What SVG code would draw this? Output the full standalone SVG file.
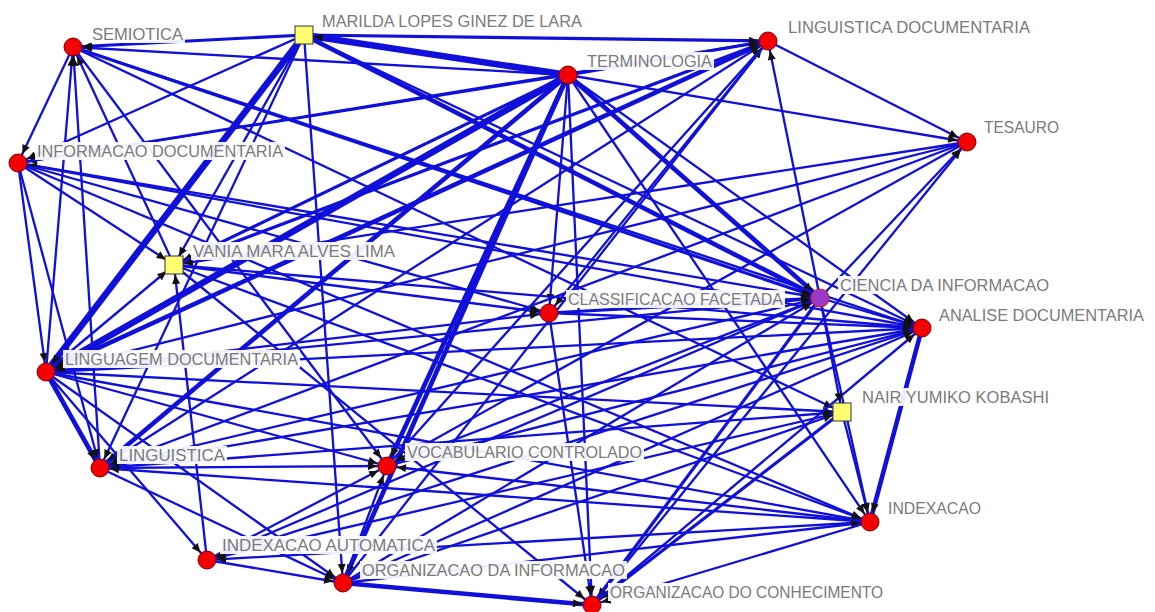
<svg xmlns="http://www.w3.org/2000/svg" width="1155" height="612" viewBox="0 0 1155 612">
<style>
.e{stroke:#1010da;fill:none;marker-end:url(#ah)}
.w2{stroke-width:2.3}.w3{stroke-width:3.2}.w4{stroke-width:4.6}.w6{stroke-width:6.5}
.c{fill:#f40000;stroke:#7a0000;stroke-width:1}
.s{fill:#ffff70;stroke:#333;stroke-width:1}
.lb{fill:#fff;opacity:0.92}
.t{font-family:"Liberation Sans",Arial,sans-serif;font-size:16.5px;fill:#7a7a7a}
</style>
<defs>
<marker id="ah" viewBox="0 0 20 8" refX="20" refY="4" markerWidth="20" markerHeight="8" markerUnits="userSpaceOnUse" orient="auto">
<path d="M1,0 L10,4 L1,8 z" fill="#111"/>
</marker>
</defs>
<rect width="1155" height="612" fill="#fff"/>
<g id="connectors">
<line class="e w3" x1="304" y1="35" x2="73" y2="47"/>
<line class="e w3" x1="304" y1="35" x2="768" y2="41"/>
<line class="e w6" x1="568" y1="75" x2="304" y2="35"/>
<line class="e w6" x1="304" y1="35" x2="46" y2="372"/>
<line class="e w4" x1="304" y1="35" x2="820" y2="298"/>
<line class="e w2" x1="304" y1="35" x2="18" y2="163"/>
<line class="e w2" x1="304" y1="35" x2="100" y2="468"/>
<line class="e w2" x1="304" y1="35" x2="343" y2="583"/>
<line class="e w2" x1="304" y1="35" x2="174" y2="265"/>
<line class="e w2" x1="304" y1="35" x2="922" y2="328"/>
<line class="e w2" x1="568" y1="75" x2="73" y2="47"/>
<line class="e w2" x1="568" y1="75" x2="18" y2="163"/>
<line class="e w6" x1="568" y1="75" x2="46" y2="372"/>
<line class="e w4" x1="568" y1="75" x2="387" y2="466"/>
<line class="e w4" x1="568" y1="75" x2="343" y2="583"/>
<line class="e w2" x1="568" y1="75" x2="549" y2="313"/>
<line class="e w4" x1="568" y1="75" x2="820" y2="298"/>
<line class="e w2" x1="568" y1="75" x2="592" y2="605"/>
<line class="e w4" x1="568" y1="75" x2="100" y2="468"/>
<line class="e w2" x1="568" y1="75" x2="967" y2="142"/>
<line class="e w2" x1="568" y1="75" x2="870" y2="522"/>
<line class="e w3" x1="568" y1="75" x2="174" y2="265"/>
<line class="e w2" x1="568" y1="75" x2="922" y2="328"/>
<line class="e w3" x1="568" y1="75" x2="768" y2="41"/>
<line class="e w4" x1="768" y1="41" x2="46" y2="372"/>
<line class="e w3" x1="174" y1="265" x2="768" y2="41"/>
<line class="e w2" x1="100" y1="468" x2="768" y2="41"/>
<line class="e w2" x1="768" y1="41" x2="967" y2="142"/>
<line class="e w2" x1="820" y1="298" x2="768" y2="41"/>
<line class="e w2" x1="343" y1="583" x2="768" y2="41"/>
<line class="e w2" x1="18" y1="163" x2="768" y2="41"/>
<line class="e w2" x1="387" y1="466" x2="768" y2="41"/>
<line class="e w2" x1="768" y1="41" x2="549" y2="313"/>
<line class="e w2" x1="73" y1="47" x2="18" y2="163"/>
<line class="e w2" x1="46" y1="372" x2="73" y2="47"/>
<line class="e w2" x1="100" y1="468" x2="73" y2="47"/>
<line class="e w2" x1="174" y1="265" x2="73" y2="47"/>
<line class="e w3" x1="73" y1="47" x2="820" y2="298"/>
<line class="e w2" x1="73" y1="47" x2="842" y2="412"/>
<line class="e w2" x1="73" y1="47" x2="387" y2="466"/>
<line class="e w2" x1="73" y1="47" x2="922" y2="328"/>
<line class="e w2" x1="18" y1="163" x2="46" y2="372"/>
<line class="e w2" x1="18" y1="163" x2="100" y2="468"/>
<line class="e w2" x1="18" y1="163" x2="174" y2="265"/>
<line class="e w2" x1="18" y1="163" x2="820" y2="298"/>
<line class="e w2" x1="922" y1="328" x2="18" y2="163"/>
<line class="e w2" x1="18" y1="163" x2="549" y2="313"/>
<line class="e w2" x1="18" y1="163" x2="870" y2="522"/>
<line class="e w2" x1="46" y1="372" x2="174" y2="265"/>
<line class="e w2" x1="207" y1="560" x2="174" y2="265"/>
<line class="e w2" x1="174" y1="265" x2="549" y2="313"/>
<line class="e w2" x1="174" y1="265" x2="922" y2="328"/>
<line class="e w2" x1="174" y1="265" x2="870" y2="522"/>
<line class="e w2" x1="174" y1="265" x2="592" y2="605"/>
<line class="e w2" x1="967" y1="142" x2="174" y2="265"/>
<line class="e w4" x1="46" y1="372" x2="100" y2="468"/>
<line class="e w2" x1="46" y1="372" x2="549" y2="313"/>
<line class="e w2" x1="46" y1="372" x2="820" y2="298"/>
<line class="e w2" x1="922" y1="328" x2="46" y2="372"/>
<line class="e w2" x1="46" y1="372" x2="842" y2="412"/>
<line class="e w2" x1="46" y1="372" x2="870" y2="522"/>
<line class="e w2" x1="46" y1="372" x2="387" y2="466"/>
<line class="e w2" x1="46" y1="372" x2="343" y2="583"/>
<line class="e w2" x1="46" y1="372" x2="207" y2="560"/>
<line class="e w2" x1="967" y1="142" x2="46" y2="372"/>
<line class="e w2" x1="100" y1="468" x2="387" y2="466"/>
<line class="e w2" x1="100" y1="468" x2="343" y2="583"/>
<line class="e w2" x1="870" y1="522" x2="100" y2="468"/>
<line class="e w2" x1="100" y1="468" x2="842" y2="412"/>
<line class="e w2" x1="922" y1="328" x2="100" y2="468"/>
<line class="e w2" x1="100" y1="468" x2="820" y2="298"/>
<line class="e w2" x1="967" y1="142" x2="100" y2="468"/>
<line class="e w2" x1="387" y1="466" x2="820" y2="298"/>
<line class="e w2" x1="387" y1="466" x2="922" y2="328"/>
<line class="e w2" x1="870" y1="522" x2="387" y2="466"/>
<line class="e w2" x1="207" y1="560" x2="387" y2="466"/>
<line class="e w2" x1="343" y1="583" x2="387" y2="466"/>
<line class="e w2" x1="967" y1="142" x2="387" y2="466"/>
<line class="e w2" x1="207" y1="560" x2="343" y2="583"/>
<line class="e w2" x1="870" y1="522" x2="207" y2="560"/>
<line class="e w2" x1="842" y1="412" x2="207" y2="560"/>
<line class="e w2" x1="922" y1="328" x2="207" y2="560"/>
<line class="e w2" x1="820" y1="298" x2="207" y2="560"/>
<line class="e w4" x1="343" y1="583" x2="592" y2="605"/>
<line class="e w2" x1="343" y1="583" x2="820" y2="298"/>
<line class="e w2" x1="343" y1="583" x2="870" y2="522"/>
<line class="e w2" x1="343" y1="583" x2="842" y2="412"/>
<line class="e w2" x1="343" y1="583" x2="922" y2="328"/>
<line class="e w3" x1="842" y1="412" x2="592" y2="605"/>
<line class="e w2" x1="870" y1="522" x2="592" y2="605"/>
<line class="e w3" x1="820" y1="298" x2="592" y2="605"/>
<line class="e w2" x1="592" y1="605" x2="967" y2="142"/>
<line class="e w2" x1="592" y1="605" x2="922" y2="328"/>
<line class="e w2" x1="549" y1="313" x2="592" y2="605"/>
<line class="e w3" x1="549" y1="313" x2="820" y2="298"/>
<line class="e w2" x1="820" y1="298" x2="870" y2="522"/>
<line class="e w4" x1="922" y1="328" x2="870" y2="522"/>
<line class="e w2" x1="842" y1="412" x2="870" y2="522"/>
<line class="e w2" x1="820" y1="298" x2="922" y2="328"/>
<line class="e w2" x1="820" y1="298" x2="842" y2="412"/>
<line class="e w2" x1="820" y1="298" x2="967" y2="142"/>
<line class="e w2" x1="549" y1="313" x2="922" y2="328"/>
</g>
<g id="labels">
<rect class="lb" x="90" y="25" width="95" height="18"/>
<text class="t" x="92" y="40" textLength="91" lengthAdjust="spacingAndGlyphs">SEMIOTICA</text>
<rect class="lb" x="320" y="12" width="264" height="18"/>
<text class="t" x="322" y="27" textLength="260" lengthAdjust="spacingAndGlyphs">MARILDA LOPES GINEZ DE LARA</text>
<rect class="lb" x="786" y="18" width="246" height="18"/>
<text class="t" x="788" y="33" textLength="242" lengthAdjust="spacingAndGlyphs">LINGUISTICA DOCUMENTARIA</text>
<rect class="lb" x="585" y="52" width="129" height="18"/>
<text class="t" x="587" y="67" textLength="125" lengthAdjust="spacingAndGlyphs">TERMINOLOGIA</text>
<rect class="lb" x="982" y="118" width="79" height="18"/>
<text class="t" x="984" y="133" textLength="75" lengthAdjust="spacingAndGlyphs">TESAURO</text>
<rect class="lb" x="35" y="142" width="250" height="18"/>
<text class="t" x="37" y="157" textLength="246" lengthAdjust="spacingAndGlyphs">INFORMACAO DOCUMENTARIA</text>
<rect class="lb" x="191" y="242" width="206" height="18"/>
<text class="t" x="193" y="257" textLength="202" lengthAdjust="spacingAndGlyphs">VANIA MARA ALVES LIMA</text>
<rect class="lb" x="63" y="350" width="237" height="18"/>
<text class="t" x="65" y="365" textLength="233" lengthAdjust="spacingAndGlyphs">LINGUAGEM DOCUMENTARIA</text>
<rect class="lb" x="566" y="290" width="219" height="18"/>
<text class="t" x="568" y="305" textLength="215" lengthAdjust="spacingAndGlyphs">CLASSIFICACAO FACETADA</text>
<rect class="lb" x="838" y="276" width="213" height="18"/>
<text class="t" x="840" y="291" textLength="209" lengthAdjust="spacingAndGlyphs">CIENCIA DA INFORMACAO</text>
<rect class="lb" x="937" y="306" width="209" height="18"/>
<text class="t" x="939" y="321" textLength="205" lengthAdjust="spacingAndGlyphs">ANALISE DOCUMENTARIA</text>
<rect class="lb" x="860" y="388" width="191" height="18"/>
<text class="t" x="862" y="403" textLength="187" lengthAdjust="spacingAndGlyphs">NAIR YUMIKO KOBASHI</text>
<rect class="lb" x="117" y="446" width="110" height="18"/>
<text class="t" x="119" y="461" textLength="106" lengthAdjust="spacingAndGlyphs">LINGUISTICA</text>
<rect class="lb" x="405" y="443" width="239" height="18"/>
<text class="t" x="407" y="458" textLength="235" lengthAdjust="spacingAndGlyphs">VOCABULARIO CONTROLADO</text>
<rect class="lb" x="220" y="536" width="217" height="18"/>
<text class="t" x="222" y="551" textLength="213" lengthAdjust="spacingAndGlyphs">INDEXACAO AUTOMATICA</text>
<rect class="lb" x="360" y="561" width="267" height="18"/>
<text class="t" x="362" y="576" textLength="263" lengthAdjust="spacingAndGlyphs">ORGANIZACAO DA INFORMACAO</text>
<rect class="lb" x="608" y="583" width="277" height="18"/>
<text class="t" x="610" y="598" textLength="273" lengthAdjust="spacingAndGlyphs">ORGANIZACAO DO CONHECIMENTO</text>
<rect class="lb" x="886" y="499" width="97" height="18"/>
<text class="t" x="888" y="514" textLength="93" lengthAdjust="spacingAndGlyphs">INDEXACAO</text>
</g>
<g id="n-semiotica"><circle class="c" cx="73" cy="47" r="9"/></g>
<g id="n-marilda"><rect class="s" x="295" y="26" width="18" height="18"/></g>
<g id="n-linguistica-documentaria"><circle class="c" cx="768" cy="41" r="9"/></g>
<g id="n-terminologia"><circle class="c" cx="568" cy="75" r="9"/></g>
<g id="n-tesauro"><circle class="c" cx="967" cy="142" r="9"/></g>
<g id="n-informacao-documentaria"><circle class="c" cx="18" cy="163" r="9"/></g>
<g id="n-vania"><rect class="s" x="165" y="256" width="18" height="18"/></g>
<g id="n-ciencia"><circle cx="820" cy="298" r="9" fill="#9a3ac8" stroke="#d02020" stroke-width="1.2"/></g>
<g id="n-classificacao"><circle class="c" cx="549" cy="313" r="9"/></g>
<g id="n-analise"><circle class="c" cx="922" cy="328" r="9"/></g>
<g id="n-linguagem"><circle class="c" cx="46" cy="372" r="9"/></g>
<g id="n-nair"><rect class="s" x="833" y="403" width="18" height="18"/></g>
<g id="n-linguistica"><circle class="c" cx="100" cy="468" r="9"/></g>
<g id="n-vocabulario"><circle class="c" cx="387" cy="466" r="9"/></g>
<g id="n-indexacao"><circle class="c" cx="870" cy="522" r="9"/></g>
<g id="n-indexacao-automatica"><circle class="c" cx="207" cy="560" r="9"/></g>
<g id="n-org-informacao"><circle class="c" cx="343" cy="583" r="9"/></g>
<g id="n-org-conhecimento"><circle class="c" cx="592" cy="605" r="9"/></g>
</svg>
